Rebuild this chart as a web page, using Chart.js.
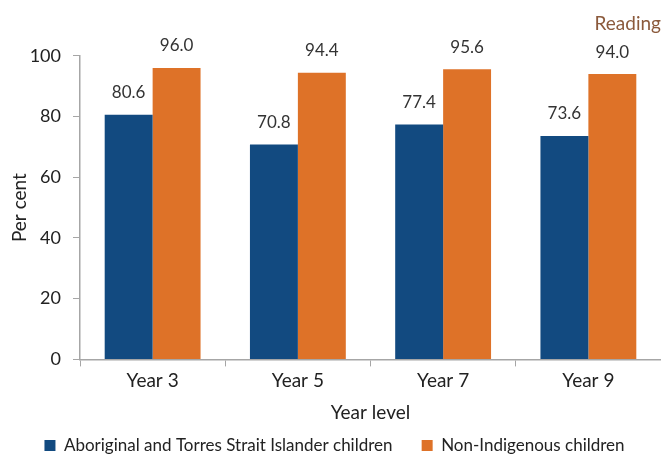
<!DOCTYPE html>
<html>
<head>
<meta charset="utf-8">
<script src="https://cdn.jsdelivr.net/npm/chart.js@4"></script>
<style>
  html, body { margin: 0; padding: 0; background: #fff; }
  #wrap { width: 661px; height: 454px; }
</style>
</head>
<body>
<div id="wrap"><canvas id="readingChart"></canvas></div>
<script>
const yearLevels = ["Year 3", "Year 5", "Year 7", "Year 9"];
const indigenousValues = [80.6, 70.8, 77.4, 73.6];
const nonIndigenousValues = [96.0, 94.4, 95.6, 94.0];
const yTicks = [0, 20, 40, 60, 80, 100];

const FONT = "Lato, 'Open Sans', sans-serif";
const axisGrey = "#a6a6a6";

// value labels above each bar
const valueLabels = {
  id: "valueLabels",
  afterDatasetsDraw(chart) {
    const ctx = chart.ctx;
    ctx.save();
    ctx.font = "17px " + FONT;
    ctx.fillStyle = "#333333";
    ctx.textAlign = "center";
    ctx.textBaseline = "middle";
    chart.data.datasets.forEach((ds, i) => {
      chart.getDatasetMeta(i).data.forEach((bar, j) => {
        ctx.fillText(ds.data[j].toFixed(1), bar.x, bar.y - 22);
      });
    });
    ctx.restore();
  },
};

new Chart(document.getElementById("readingChart"), {
  type: "bar",
  data: {
    labels: yearLevels,
    datasets: [
      {
        label: "Aboriginal and Torres Strait Islander children",
        data: indigenousValues,
        backgroundColor: "#124a80",
        categoryPercentage: 0.66,
        barPercentage: 1.0,
      },
      {
        label: "Non-Indigenous children",
        data: nonIndigenousValues,
        backgroundColor: "#de7228",
        categoryPercentage: 0.66,
        barPercentage: 1.0,
      },
    ],
  },
  options: {
    responsive: true,
    maintainAspectRatio: false,
    animation: false,
    layout: { padding: { left: 8, right: 0, bottom: -10 } },
    plugins: {
      title: {
        display: true,
        text: "Reading",
        align: "end",
        color: "#8b5a3c",
        font: { family: FONT, size: 19, weight: "normal" },
        padding: { top: 12, bottom: 21 },
      },
      legend: {
        position: "bottom",
        labels: {
          color: "#222222",
          font: { family: FONT, size: 17 },
          boxWidth: 11,
          boxHeight: 11,
          padding: 3,
          generateLabels(chart) {
            const items = Chart.defaults.plugins.legend.labels.generateLabels(chart);
            items[0].text = items[0].text + "      ";
            items.forEach((it) => { it.lineWidth = 0; });
            return items;
          },
        },
      },
      tooltip: { enabled: false },
    },
    scales: {
      x: {
        grid: {
          display: true,
          drawOnChartArea: false,
          tickLength: 7,
          color: axisGrey,
          offset: true,
        },
        border: { color: axisGrey, width: 1.5 },
        ticks: { color: "#222222", font: { family: FONT, size: 19 }, padding: 3 },
        title: {
          display: true,
          text: "Year level",
          color: "#222222",
          font: { family: FONT, size: 19 },
          padding: { top: 6, bottom: 10 },
        },
      },
      y: {
        min: 0,
        max: 100,
        afterBuildTicks(axis) {
          axis.ticks = yTicks.map((v) => ({ value: v }));
        },
        afterFit(axis) {
          axis.width = 72;
        },
        grid: {
          display: true,
          drawOnChartArea: false,
          tickLength: 7,
          color: axisGrey,
        },
        border: { color: axisGrey, width: 1.5 },
        ticks: { color: "#222222", font: { family: FONT, size: 18 }, padding: 12 },
        title: {
          display: true,
          text: "Per cent",
          color: "#222222",
          font: { family: FONT, size: 19 },
          padding: { top: 0, bottom: 0 },
        },
      },
    },
  },
  plugins: [valueLabels],
});
</script>
</body>
</html>
